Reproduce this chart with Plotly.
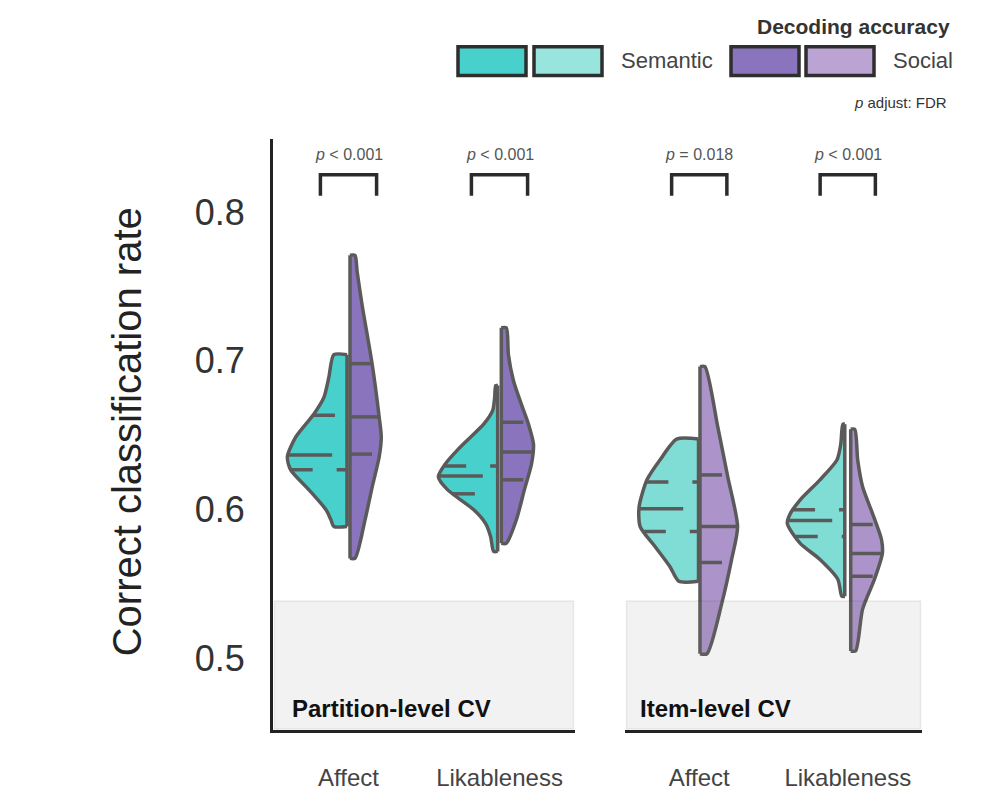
import numpy as np
import plotly.graph_objects as go

# ---------------- data ----------------
panels = ["Partition-level CV", "Item-level CV"]
tasks = ["Affect", "Likableness"]
models = ["Semantic", "Social"]
p_labels = ["<i>p</i> &lt; 0.001", "<i>p</i> &lt; 0.001", "<i>p</i> = 0.018", "<i>p</i> &lt; 0.001"]
y_ticks = [0.5, 0.6, 0.7, 0.8]
chance_level = 0.5385

# density outline: y levels and half-widths (category units)
pa_sem_y = [0.5886, 0.5933, 0.6000, 0.6134, 0.6267, 0.6354, 0.6487, 0.6641, 0.6754, 0.6890, 0.7041]
pa_sem_w = [0.087, 0.107, 0.140, 0.253, 0.373, 0.395, 0.340, 0.220, 0.153, 0.120, 0.087]
pa_soc_y = [0.5672, 0.5933, 0.6153, 0.6354, 0.6487, 0.6623, 0.6975, 0.7375, 0.7600, 0.7709]
pa_soc_w = [0.033, 0.100, 0.147, 0.193, 0.207, 0.193, 0.147, 0.080, 0.047, 0.033]
pl_sem_y = [0.5719, 0.5819, 0.5906, 0.6000, 0.6134, 0.6220, 0.6307, 0.6400, 0.6487, 0.6574, 0.6667, 0.6754, 0.6834]
pl_sem_w = [0.027, 0.047, 0.080, 0.160, 0.333, 0.393, 0.347, 0.267, 0.180, 0.093, 0.033, 0.020, 0.013]
pl_soc_y = [0.5773, 0.5933, 0.6134, 0.6307, 0.6440, 0.6574, 0.6707, 0.6868, 0.7041, 0.7222]
pl_soc_w = [0.033, 0.100, 0.153, 0.200, 0.213, 0.180, 0.133, 0.080, 0.047, 0.033]
ia_sem_y = [0.5518, 0.5618, 0.5752, 0.5886, 0.6019, 0.6200, 0.6333, 0.6474]
ia_sem_w = [0.133, 0.193, 0.293, 0.393, 0.400, 0.347, 0.260, 0.147]
ia_soc_y = [0.5031, 0.5371, 0.5665, 0.5886, 0.6220, 0.6554, 0.6961]
ia_soc_w = [0.047, 0.147, 0.213, 0.253, 0.187, 0.120, 0.033]
il_sem_y = [0.5418, 0.5532, 0.5665, 0.5773, 0.5906, 0.5973, 0.6066, 0.6200, 0.6333, 0.6440, 0.6574]
il_sem_w = [0.020, 0.047, 0.167, 0.300, 0.387, 0.367, 0.300, 0.167, 0.053, 0.027, 0.013]
il_soc_y = [0.5050, 0.5331, 0.5532, 0.5705, 0.5799, 0.5973, 0.6153, 0.6333, 0.6540]
il_soc_w = [0.033, 0.080, 0.160, 0.213, 0.207, 0.147, 0.080, 0.047, 0.027]

# quartiles (q1, median, q3)
pa_sem_q = [0.6267, 0.6367, 0.6634]
pa_soc_q = [0.6373, 0.6623, 0.6981]
pl_sem_q = [0.6106, 0.6226, 0.6293]
pl_soc_q = [0.6200, 0.6387, 0.6587]
ia_sem_q = [0.5853, 0.6006, 0.6186]
ia_soc_q = [0.5645, 0.5886, 0.6233]
il_sem_q = [0.5819, 0.5926, 0.5999]
il_soc_q = [0.5552, 0.5705, 0.5900]

# ---------------- styling ----------------
FONT = "Liberation Sans, Arial, sans-serif"
EDGE = "#5a5a5a"
fill_colors = {
    (0, 0): "#48D1CC", (0, 1): "#8A74BE",
    (1, 0): "#80DDD5", (1, 1): "#AC94CA",
}
legend_colors = ["#48D1CC", "#98E5DE", "#8A74BE", "#BBA4D3"]
spine_gap = {(0, 0): 0.01, (0, 1): 0.012, (1, 0): 0.005, (1, 1): 0.02}

violins = [
    (0, 0, 0, pa_sem_y, pa_sem_w, pa_sem_q), (0, 0, 1, pa_soc_y, pa_soc_w, pa_soc_q),
    (0, 1, 0, pl_sem_y, pl_sem_w, pl_sem_q), (0, 1, 1, pl_soc_y, pl_soc_w, pl_soc_q),
    (1, 0, 0, ia_sem_y, ia_sem_w, ia_sem_q), (1, 0, 1, ia_soc_y, ia_soc_w, ia_soc_q),
    (1, 1, 0, il_sem_y, il_sem_w, il_sem_q), (1, 1, 1, il_soc_y, il_soc_w, il_soc_q),
]

fig = go.Figure()

for panel, task, model, ys, ws, qs in violins:
    xa = "x" if panel == 0 else "x2"
    ya = "y" if panel == 0 else "y2"
    side = -1 if model == 0 else 1
    c = task + side * spine_gap[(panel, task)]
    xs = [c] + [c + side * w for w in ws] + [c]
    yy = [ys[0]] + list(ys) + [ys[-1]]
    fig.add_trace(go.Scatter(
        x=xs, y=yy, xaxis=xa, yaxis=ya, mode="lines", fill="toself",
        fillcolor=fill_colors[(panel, model)],
        line=dict(color=EDGE, width=3.5, shape="spline", smoothing=0.7),
        hoverinfo="skip", showlegend=False))
    # spine
    fig.add_trace(go.Scatter(
        x=[c, c], y=[ys[0], ys[-1]], xaxis=xa, yaxis=ya, mode="lines",
        line=dict(color=EDGE, width=3.5), hoverinfo="skip", showlegend=False))
    # quartile lines
    for k, q in enumerate(qs):
        w = float(np.interp(q, ys, ws))
        lx = [c - w, c] if side < 0 else [c, c + w]
        dash = "44px,16px" if k == 1 else "22px,24px"
        fig.add_trace(go.Scatter(
            x=lx, y=[q, q], xaxis=xa, yaxis=ya, mode="lines",
            line=dict(color=EDGE, width=3.5, dash=dash),
            hoverinfo="skip", showlegend=False))

# significance brackets
br_lo, br_hi, br_hw, p_y = 0.811, 0.825, 0.186, 0.8384
i = 0
for panel in range(2):
    xa = "x" if panel == 0 else "x2"
    ya = "y" if panel == 0 else "y2"
    for task in range(2):
        fig.add_trace(go.Scatter(
            x=[task - br_hw, task - br_hw, task + br_hw, task + br_hw],
            y=[br_lo, br_hi, br_hi, br_lo], xaxis=xa, yaxis=ya, mode="lines",
            line=dict(color="#2b2b2b", width=3.5), hoverinfo="skip", showlegend=False))
        fig.add_annotation(x=task, y=p_y, xref=xa, yref=ya, text=p_labels[i],
                           showarrow=False, xanchor="center", yanchor="middle",
                           font=dict(family=FONT, size=16, color="#555"))
        i += 1

# chance-level shaded boxes and panel labels
shapes = []
for panel in range(2):
    xa = "x" if panel == 0 else "x2"
    ya = "y" if panel == 0 else "y2"
    shapes.append(dict(type="rect", xref=xa, yref=ya, x0=-0.49, x1=1.49,
                       y0=0.4525, y1=chance_level, layer="above",
                       fillcolor="rgba(128,128,128,0.10)",
                       line=dict(color="rgba(0,0,0,0.07)", width=1.5)))
    fig.add_annotation(x=-0.39 if panel == 0 else -0.41, y=0.4665, xref=xa, yref=ya,
                       text="<b>%s</b>" % panels[panel], showarrow=False,
                       xanchor="left", yanchor="middle",
                       font=dict(family=FONT, size=24, color="#111"))

# page offset (browser body margin) and figure size
OFF = 8
W, H = 982 - OFF, 791 - OFF
def px(p):
    return (p - OFF) / W
def py(p):
    return 1 - (p - OFF) / H

# legend drawn in paper space
sw_x = [(458, 526), (534, 602), (731, 799), (806, 874)]
for (a, b), col in zip(sw_x, legend_colors):
    shapes.append(dict(type="rect", xref="paper", yref="paper",
                       x0=px(a), x1=px(b), y0=py(76), y1=py(47),
                       fillcolor=col, line=dict(color="#2e2e2e", width=3.5)))
fig.add_annotation(x=px(952), y=py(27), xref="paper", yref="paper",
                   xanchor="right", yanchor="middle",
                   text="<b>Decoding accuracy</b>", showarrow=False,
                   font=dict(family=FONT, size=21, color="#333"))
fig.add_annotation(x=px(619), y=py(61), xref="paper", yref="paper",
                   xanchor="left", yanchor="middle",
                   text=models[0], showarrow=False, font=dict(family=FONT, size=22, color="#444"))
fig.add_annotation(x=px(891), y=py(61), xref="paper", yref="paper",
                   xanchor="left", yanchor="middle",
                   text=models[1], showarrow=False, font=dict(family=FONT, size=22, color="#444"))
fig.add_annotation(x=px(949), y=py(103), xref="paper", yref="paper",
                   xanchor="right", yanchor="middle",
                   text="<i>p</i> adjust: FDR", showarrow=False,
                   font=dict(family=FONT, size=15, color="#333"))
# y-axis title
fig.add_annotation(x=px(127), y=py(435), xref="paper", yref="paper", textangle=-90,
                   xanchor="center", yanchor="middle",
                   text="Correct classification rate", showarrow=False,
                   font=dict(family=FONT, size=40, color="#222"))

xdom1 = [px(273), px(575)]
xdom2 = [px(625), px(922)]
ydom = [py(735), py(140)]
yrange = [0.4516, 0.849]

xcommon = dict(range=[-0.5, 1.5], tickvals=[0, 1], ticktext=tasks, showline=True,
               linecolor="#222", linewidth=3, ticks="outside", ticklen=24,
               tickcolor="rgba(0,0,0,0)", showgrid=False, zeroline=False,
               tickfont=dict(family=FONT, size=24, color="#444"), fixedrange=True)
fig.update_layout(
    width=W, height=H, margin=dict(l=0, r=0, t=0, b=0),
    paper_bgcolor="white", plot_bgcolor="white", showlegend=False,
    xaxis=dict(domain=xdom1, anchor="y", **xcommon),
    xaxis2=dict(domain=xdom2, anchor="y2", **xcommon),
    yaxis=dict(domain=ydom, range=yrange, anchor="x", tickvals=y_ticks,
               ticktext=[f"{v:.1f}" for v in y_ticks], showline=True, linecolor="#222",
               linewidth=3, ticks="outside", ticklen=18, tickcolor="rgba(0,0,0,0)",
               showgrid=False, zeroline=False,
               tickfont=dict(family=FONT, size=36, color="#333")),
    yaxis2=dict(domain=ydom, range=yrange, anchor="x2", showline=False,
                showticklabels=False, ticks="", showgrid=False, zeroline=False),
    shapes=shapes,
)

fig.write_html("out.html")
